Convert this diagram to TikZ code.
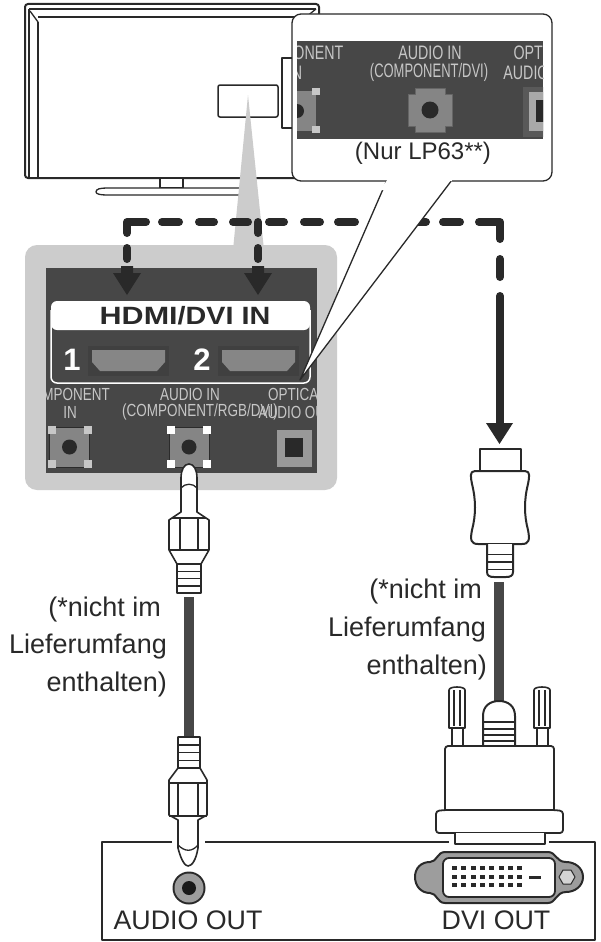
\documentclass[tikz,border=0pt]{standalone}
\usepackage{fontspec}
\setmainfont{Liberation Sans}
\usetikzlibrary{calc}
\definecolor{panel}{gray}{0.28}
\definecolor{halo}{gray}{0.80}
\definecolor{ink}{gray}{0.16}
\definecolor{jack}{gray}{0.52}
\definecolor{lab}{gray}{0.78}
\tikzset{
  txt/.style={font=\fontsize{#1}{#1}\selectfont,text=ink,inner sep=0pt},
  plab/.style 2 args={font=\fontsize{#1}{#1}\selectfont,text=lab,inner sep=0pt,xscale=#2},
  line/.style={draw=ink,line width=1.3pt},
  thick line/.style={draw=ink,line width=2pt,fill=white},
  cable/.style={draw=none,fill=panel},
  dashline/.style={draw=ink,line width=8pt,line cap=round},
  head/.style={fill=ink,draw=none}
}
\newcommand{\ribs}[4]{% xc, halfwidth, y1, y2 (3 rib lines between)
  \foreach \t in {0.25,0.5,0.75}{
    \draw[ink,line width=1.5pt] (#1-#2,{#3+\t*(#4-#3)}) -- (#1+#2,{#3+\t*(#4-#3)});}
}
\newcommand{\pin}[2]{% jack with corner squares
  \fill[jack,draw=panel!60!black] (#1-20,447-20) rectangle (#1+20,447+20);
  \foreach \dx in {-18,18}\foreach \dy in {-17,17}
    \fill[#2] (#1+\dx-4,447+\dy-4) rectangle (#1+\dx+4,447+\dy+4);
  \fill[ink] (#1,447) circle (7.5);
}
\begin{document}
\begin{tikzpicture}[x=1pt,y=-1pt,line join=round]
\useasboundingbox (0,0) rectangle (601,942);
\fill[white] (0,0) rectangle (601,942);
% TV
\draw[thick line,rounded corners=3] (25,4) rectangle (319,178);
\draw[line] (29,9) -- (316,9);
\draw[line] (38,17) -- (316,17);
\draw[line] (29,9) -- (29,178);
\draw[line] (38,22) -- (38,178);
\draw[line] (30,11) -- (38,22);
\draw[line] (316,9) -- (306,17);
\draw[line,fill=white] (160,178) rectangle (183,188);
\draw[line,fill=white,rounded corners=3] (96,192) .. controls (96,189) and (100,188) .. (110,188) -- (250,188) -- (250,195) -- (110,195) .. controls (100,195) and (96,194) .. (96,192);
\draw[thick line,line width=1.5pt,rounded corners=2] (218,85) rectangle (278,117);
\draw[line width=1.6pt,ink] (292,58) -- (282,58) -- (282,128) -- (292,128);
% beam
\fill[halo] (248,95) -- (233,250) -- (264,250) -- cycle;
% halo and panel
\fill[halo,rounded corners=12] (25,245) rectangle (337,490);
\fill[panel] (46,268) rectangle (317,473);
% dashes
\draw[dashline] (127,233) -- (127,222) -- (146,222);
\draw[dashline] (127,248) -- (127,259);
\foreach \xs/\xe in {162/179,199/214,233/248,269/284,304/320,338/355,409/426,443/460}
  \draw[dashline] (\xs,222) -- (\xe,222);
\draw[dashline] (258,222) -- (258,233);
\draw[dashline] (258,248) -- (258,259);
\draw[dashline] (479,222) -- (500,222) -- (500,239);
\draw[dashline] (500,259) -- (500,277);
\draw[dashline] (500,296) -- (500,430);
% arrowheads
\fill[head] (121,266) -- (133,266) -- (133,273) -- (141,273) -- (127,295) -- (113,273) -- (121,273) -- cycle;
\fill[head] (252,266) -- (264,266) -- (264,273) -- (272,273) -- (258,295) -- (244,273) -- (252,273) -- cycle;
\fill[head] (486,423) -- (513,423) -- (499.5,444) -- cycle;
% HDMI box
\fill[white,rounded corners=6] (51,301) -- (310,301) -- (310,330) -- (51,330) -- cycle;
\draw[white,line width=1.5pt,rounded corners=6] (51,310) -- (51,383) -- (310,383) -- (310,310);
\node[txt=25,font=\fontsize{25}{25}\bfseries\selectfont,anchor=center] (hdmi) at (185,316) {\scalebox{1.22}[1]{HDMI}\scalebox{1.15}[1]{/DVI IN}};
\foreach \xa in {88,218}{
  \fill[black!75] (\xa,346) rectangle (\xa+81,376);
  \fill[gray!95] (\xa+4,350) -- (\xa+77,350) -- (\xa+77,362) -- (\xa+69,371) -- (\xa+12,371) -- (\xa+4,362) -- cycle;
}
\node[txt=31,text=white,font=\fontsize{31}{31}\bfseries\selectfont] (n1) at (72,360) {1};
\node[txt=31,text=white,font=\fontsize{31}{31}\bfseries\selectfont] (n2) at (202,360) {2};
% panel labels
\begin{scope}
\clip (46,268) rectangle (317,473);
\node[plab={17.5}{0.77}] (l1) at (66,394) {COMPONENT};
\node[plab={17.5}{0.77}] (l2) at (70,412) {IN};
\node[plab={17.5}{0.77}] (l3) at (190,394) {AUDIO IN};
\node[plab={17.5}{0.77}] (l4) at (200,412) {(COMPONENT/RGB/DVI)};
\node[plab={17.5}{0.77}] (l5) at (297,394) {OPTICAL};
\node[plab={17.5}{0.77}] (l6) at (296,412) {AUDIO OUT};
\end{scope}
% jacks
\pin{69.5}{lab}
\pin{189}{white}
\fill[gray!80!white] (277,430) rectangle (312,467);
\fill[ink] (285,438) rectangle (303,457);
% callout tail and bubble
\draw[line,fill=white] (387,180) -- (300,380) -- (452,180);
\draw[thick line,line width=1.3pt,rounded corners=9,fill=white] (387,181) -- (292,181) -- (292,14) -- (552,14) -- (552,181) -- (452,181);
\fill[white] (388,179) -- (451,179) -- (440,190) -- (380,190) -- cycle;
\fill[panel] (297,41) rectangle (543,139);
\begin{scope}
\clip (297,41) rectangle (543,139);
\node[plab={19.5}{0.73}] (c1) at (297,53) {COMPONENT};
\node[plab={19.5}{0.73}] (c2) at (295,73) {IN};
\node[plab={19.5}{0.73}] (c3) at (430,53) {AUDIO IN};
\node[plab={19.5}{0.665}] (c4) at (429,72) {(COMPONENT/DVI)};
\node[plab={19.5}{0.73}] (c5) at (544,53) {OPTICAL};
\node[plab={19.5}{0.73}] (c6) at (543,73) {AUDIO OUT};
\fill[jack] (297,91) rectangle (316,131);
\fill[lab] (312,88) rectangle (320,95);
\fill[lab] (312,126) rectangle (320,133);
\fill[ink] (297,111) circle (7);
\fill[black!65] (523,87) rectangle (550,137);
\fill[lab!85!black] (529,92) rectangle (550,131);
\fill[ink] (536,100) rectangle (550,122);
\end{scope}
\fill[jack,draw=black!60,line width=1pt] (415,88) -- (445,88) -- (445,94) -- (452,94) -- (452,126) -- (445,126) -- (445,132) -- (415,132) -- (415,126) -- (408,126) -- (408,94) -- (415,94) -- cycle;
\fill[ink] (430,110) circle (8.5);
\node[txt=24] (nur) at (423,153) {(Nur LP63**)};
% audio cable
\fill[cable] (184,597) rectangle (194,736);
% upper audio plug
\draw[thick line,line width=1.6pt] (181,512) -- (181,478) .. controls (181,470) and (184,464) .. (189,464) .. controls (194,464) and (197,470) .. (197,478) -- (197,512) -- (209,520) -- (209,550) -- (201,564) -- (201,593) -- (177,593) -- (177,564) -- (169,550) -- (169,520) -- cycle;
\draw[line] (181,488) .. controls (185,483) and (193,483) .. (197,488);
\draw[line] (172,518) -- (206,518) (180,518) -- (180,550) (198,518) -- (198,550);
\draw[line] (169,550) -- (209,550) (177,564) -- (201,564);
\ribs{189}{12}{564}{593}
% lower audio plug
\draw[thick line,line width=1.6pt] (178,737) -- (178,768) -- (169,780) -- (169,815) -- (178,820) -- (178,848) .. controls (181,860) and (185,866) .. (188,866) .. controls (192,866) and (196,860) .. (198,848) -- (198,820) -- (207,815) -- (207,780) -- (200,768) -- (200,737) -- cycle;
\draw[line] (178,845) .. controls (185,852) and (192,852) .. (198,845);
\draw[line] (178,768) -- (200,768) (169,783) -- (207,783) (178,783) -- (178,815) (198,783) -- (198,815) (169,816) -- (207,816);
\ribs{189}{11}{737}{768}
% HDMI plug
\draw[thick line] (480,471) -- (480,449) -- (521,449) -- (521,471);
\draw[thick line] (475,471) .. controls (469,471) and (471,478) .. (472,484) .. controls (476,500) and (476,515) .. (472,530) .. controls (470,540) and (471,544) .. (478,544) -- (522,544) .. controls (529,544) and (530,540) .. (528,530) .. controls (524,515) and (524,500) .. (528,484) .. controls (529,478) and (531,471) .. (525,471) -- cycle;
\draw[thick line] (487,544) -- (487,572) .. controls (487,576) and (490,577) .. (494,577) -- (506,577) .. controls (510,577) and (513,576) .. (513,572) -- (513,544);
\ribs{500}{13}{547}{577}
% DVI cable
\fill[cable] (494,582) rectangle (504,702);
% DVI connector
\draw[line,fill=white] (452,728) -- (452,746) (463,728) -- (463,746);
\draw[line,fill=white] (537,728) -- (537,746) (548,728) -- (548,746);
\draw[thick line,line width=1.6pt,fill=white] (449,728) -- (449,690) .. controls (449,686) and (465,686) .. (465,690) -- (465,728) -- cycle;
\draw[thick line,line width=1.6pt,fill=white] (534,728) -- (534,690) .. controls (534,686) and (550,686) .. (550,690) -- (550,728) -- cycle;
\draw[line] (454,690) -- (454,726) (460,690) -- (460,726) (539,690) -- (539,726) (545,690) -- (545,726);
\draw[thick line,fill=white] (483,746) -- (483,716) .. controls (483,706) and (490,701) .. (499,701) .. controls (508,701) and (515,706) .. (515,716) -- (515,746) -- cycle;
\draw[ink,line width=1.6pt] (484,722) -- (514,722);
\foreach \yy in {729,735,741}\draw[ink,line width=1.6pt] (483,\yy) -- (515,\yy);
\draw[thick line,line width=1.8pt,fill=white,rounded corners=3] (445,810) -- (445,746) -- (554,746) -- (554,810);
\draw[thick line,line width=1.8pt,fill=white,rounded corners=3] (445,810) -- (436,811) -- (436,833) -- (563,833) -- (563,811) -- (554,810) -- cycle;
% bottom box
\draw[thick line,fill=none,line width=1.6pt] (172,842) -- (102,842) -- (102,940) -- (595,940) -- (595,842) -- (549,842);
\draw[thick line,line width=1.6pt,fill=none] (205,842) -- (449,842);
\draw[thick line,fill=white,line width=1.8pt] (455,833) -- (455,844) -- (545,844) -- (545,833);
% audio out
\fill[ink] (189,888) circle (16.5);
\fill[jack!80!white] (189,888) circle (14.5);
\fill[black!90] (189,888) circle (7);
\node[txt=26.8] (ao) at (188,920) {AUDIO OUT};
% DVI port
\draw[ink,line width=2pt,fill=jack!80!white] (445,852) -- (548,852) .. controls (556,852) and (556,862) .. (566,862) .. controls (575,862) and (583,868) .. (583,877) .. controls (583,886) and (575,892) .. (566,892) .. controls (556,892) and (556,903) .. (548,903) -- (445,903) .. controls (437,903) and (437,893) .. (430,893) .. controls (421,893) and (415,886) .. (415,877) .. controls (415,868) and (421,862) .. (430,862) .. controls (437,862) and (437,852) .. (445,852) -- cycle;
\draw[ink,line width=1.8pt,fill=white,rounded corners=6] (443,858) rectangle (555,897);
\foreach \ry in {868,876.5,885}\foreach \cx in {0,...,7}\fill[ink] ($(452,\ry-2)+(\cx*9.3,0)$) rectangle ++(5,4);
\draw[ink,line width=3pt] (529,877) -- (541,877);
\fill[ink!20!white,draw=ink,line width=1pt] (575,877) -- (571,884) -- (563,884) -- (559,877) -- (563,870) -- (571,870) -- cycle;
\node[txt=26.8] (dv) at (496,920) {DVI OUT};
% captions
\node[txt=27,anchor=east] (a1) at (161,610) {(*nicht im};
\node[txt=27,anchor=east] (a2) at (167,647) {Lieferumfang};
\node[txt=27,anchor=east] (a3) at (167,685) {enthalten)};
\node[txt=27,anchor=east] (b1) at (482,592) {(*nicht im};
\node[txt=27,anchor=east] (b2) at (486,630) {Lieferumfang};
\node[txt=27,anchor=east] (b3) at (487,668) {enthalten)};
\end{tikzpicture}
\end{document}
